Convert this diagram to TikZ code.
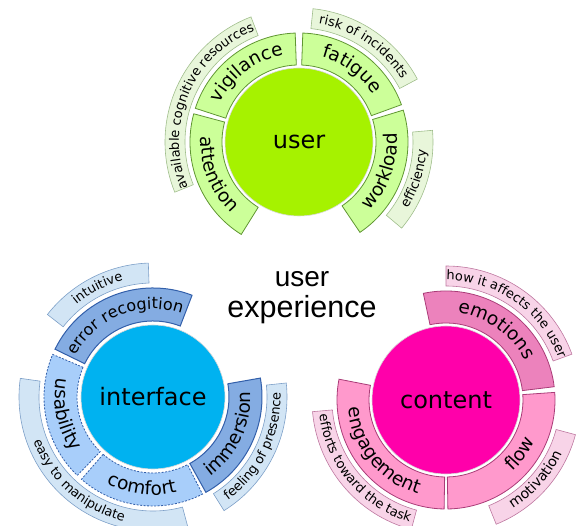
\documentclass[tikz,border=0pt]{standalone}
\usepackage{fontspec}
\setmainfont{DejaVu Sans}
\newfontfamily\titlefamily{Liberation Sans}
\usepackage{tikz}
\usetikzlibrary{calc, decorations.text}

\definecolor{userdisccolor}{RGB}{166, 242, 0}
\definecolor{userpartcolor}{RGB}{204, 255, 153}
\definecolor{userbandcolor}{RGB}{232, 246, 218}
\definecolor{userlinecolor}{RGB}{96, 150, 50}
\definecolor{userbandlinecolor}{RGB}{160, 190, 140}
\definecolor{uidisccolor}{RGB}{0, 178, 240}
\definecolor{uipartcolor}{RGB}{168, 206, 250}
\definecolor{uidarkcolor}{RGB}{132, 172, 226}
\definecolor{uibandcolor}{RGB}{210, 229, 245}
\definecolor{uilinecolor}{RGB}{50, 95, 170}
\definecolor{uibandlinecolor}{RGB}{125, 160, 200}
\definecolor{contentdisccolor}{RGB}{255, 0, 170}
\definecolor{contentpartcolor}{RGB}{255, 153, 204}
\definecolor{contentdarkcolor}{RGB}{236, 130, 188}
\definecolor{contentbandcolor}{RGB}{248, 212, 232}
\definecolor{contentlinecolor}{RGB}{170, 60, 120}
\definecolor{contentbandlinecolor}{RGB}{190, 120, 160}

\newcommand{\partfont}{\fontsize{18.5}{21}\selectfont}
\newcommand{\smallpartfont}{\fontsize{16}{19}\selectfont}
\newcommand{\bandfont}{\fontsize{13}{15}\selectfont}
\newcommand{\bigbandfont}{\fontsize{14}{16}\selectfont}

% ring piece: centre, start angle, end angle, inner radius, outer radius, style
\newcommand{\ringpart}[6]{%
  \draw[#6] ($(#1)+(#2:#4pt)$) arc[start angle=#2, end angle=#3, radius=#4pt]
    -- ($(#1)+(#3:#5pt)$) arc[start angle=#3, end angle=#2, radius=#5pt] -- cycle;}
% text on an arc: centre, start angle, end angle, radius, font, text
\newcommand{\ringtext}[6]{%
  \path[decorate, decoration={text along path, text align=center, text={|#5|#6}}]
    ($(#1)+(#2:#4pt)$) arc[start angle=#2, end angle=#3, radius=#4pt];}

\begin{document}
\begin{tikzpicture}[
    x=1pt, y=1pt,
    disc/.style={
        circle, draw=white!70!gray, line width=0.6pt,
        minimum size=148pt, inner sep=0pt, font=\fontsize{24}{28}\selectfont
    },
    userpart/.style={fill=userpartcolor, draw=userlinecolor, line width=0.8pt},
    userband/.style={fill=userbandcolor, draw=userbandlinecolor, line width=0.6pt},
    uipart/.style={fill=uipartcolor, draw=uilinecolor, line width=0.8pt, dash pattern=on 2pt off 1.5pt},
    uidark/.style={fill=uidarkcolor, draw=uilinecolor, line width=1pt},
    uiband/.style={fill=uibandcolor, draw=uibandlinecolor, line width=0.6pt},
    contentpart/.style={fill=contentpartcolor, draw=contentlinecolor, line width=0.8pt},
    contentdark/.style={fill=contentdarkcolor, draw=contentlinecolor, line width=0.8pt},
    contentband/.style={fill=contentbandcolor, draw=contentbandlinecolor, line width=0.6pt}
]
\useasboundingbox (0,0) rectangle (578,526);

% User
\node[disc, fill=userdisccolor] (user) at (299,384) {user};
\ringpart{user.center}{165}{238}{77}{109}{userpart}
\ringpart{user.center}{92}{162}{77}{109}{userpart}
\ringpart{user.center}{20}{88}{77}{109}{userpart}
\ringpart{user.center}{-56}{17}{77}{109}{userpart}
\ringpart{user.center}{111}{202}{114}{134}{userband}
\ringpart{user.center}{28}{84}{114}{134}{userband}
\ringpart{user.center}{-40}{5}{114}{134}{userband}
\ringtext{user.center}{165}{238}{98}{\partfont}{attention}
\ringtext{user.center}{162}{92}{88}{\partfont}{vigilance}
\ringtext{user.center}{88}{20}{88}{\partfont}{fatigue}
\ringtext{user.center}{-56}{17}{98}{\partfont}{workload}
\ringtext{user.center}{206}{108}{120}{\bandfont}{available cognitive resources}
\ringtext{user.center}{84}{28}{120}{\bandfont}{risk of incidents}
\ringtext{user.center}{-40}{5}{127.5}{\bandfont}{efficiency}

% Interface
\node[disc, fill=uidisccolor, minimum size=144pt] (ui) at (153,129) {interface};
\ringpart{ui.center}{69}{154}{76}{109}{uidark}
\ringpart{ui.center}{157}{226}{76}{109}{uipart}
\ringpart{ui.center}{229}{297}{76}{109}{uipart}
\ringpart{ui.center}{-61}{10}{76}{109}{uidark}
\ringpart{ui.center}{92}{142}{114}{134}{uiband}
\ringpart{ui.center}{172}{285}{114}{134}{uiband}
\ringpart{ui.center}{-58}{6}{114}{134}{uiband}
\ringtext{ui.center}{158}{65}{88}{\smallpartfont}{error recogition}
\ringtext{ui.center}{157}{226}{98}{\partfont}{usability}
\ringtext{ui.center}{229}{297}{98}{\partfont}{comfort}
\ringtext{ui.center}{-61}{10}{98}{\partfont}{immersion}
\ringtext{ui.center}{142}{92}{120}{\bandfont}{intuitive}
\ringtext{ui.center}{172}{285}{127.5}{\bandfont}{easy to manipulate}
\ringtext{ui.center}{-58}{6}{127.5}{\bandfont}{feeling of presence}

% Content
\node[disc, fill=contentdisccolor] (content) at (446,126) {content};
\ringpart{content.center}{7}{102}{77}{109}{contentdark}
\ringpart{content.center}{-89}{4}{77}{109}{contentpart}
\ringpart{content.center}{169}{269}{77}{109}{contentpart}
\ringpart{content.center}{20}{90}{114}{134}{contentband}
\ringpart{content.center}{-68}{-15}{114}{134}{contentband}
\ringpart{content.center}{185}{255}{114}{134}{contentband}
\ringtext{content.center}{102}{7}{88}{\partfont}{emotions}
\ringtext{content.center}{-80}{8}{98}{\partfont}{flow}
\ringtext{content.center}{169}{269}{98}{\partfont}{engagement}
\ringtext{content.center}{94}{16}{120}{\bandfont}{how it affects the user}
\ringtext{content.center}{-68}{-15}{127.5}{\bigbandfont}{motivation}
\ringtext{content.center}{182}{258}{127.5}{\bandfont}{efforts toward the task}

% Title
\node[font=\titlefamily\fontsize{28}{32}\selectfont, anchor=base] (uxtop) at (302,239.3) {user};
\node[font=\titlefamily\fontsize{30.5}{34}\selectfont, anchor=base] (uxbottom) at (302,208) {experience};

\end{tikzpicture}
\end{document}
